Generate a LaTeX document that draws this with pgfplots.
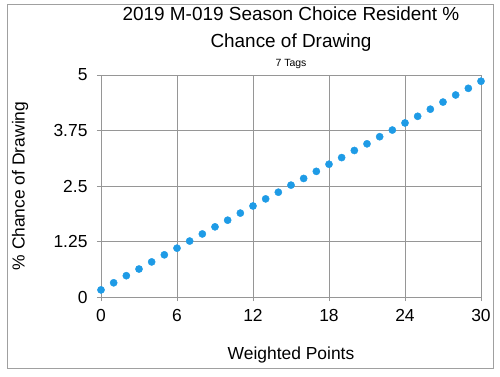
\documentclass[border=0pt]{standalone}
\usepackage{pgfplots}
\pgfplotsset{compat=1.18}
\usepackage{fontspec}
\setmainfont{Liberation Sans}
\definecolor{dotblue}{RGB}{30,155,230}
\definecolor{gridgray}{RGB}{150,150,150}
\definecolor{framegray}{RGB}{160,160,160}
\begin{document}
\begin{tikzpicture}[x=1bp,y=1bp]
\path[use as bounding box] (-101bp,-80bp) rectangle (399bp,297bp);
\draw[framegray, line width=0.8pt] (-94bp,-71bp) rectangle (392bp,293bp);
\begin{axis}[
  at={(0,0)}, anchor=south west,
  width=380bp, height=222bp, scale only axis,
  xmin=0, xmax=30, ymin=0, ymax=5,
  xtick={0,6,12,18,24,30},
  ytick={0,1.25,2.5,3.75,5},
  yticklabels={0,1.25,2.5,3.75,5},
  /pgf/number format/assume math mode=true,
  grid=major,
  grid style={gridgray, line width=0.8pt},
  axis line style={gridgray, line width=0.8pt},
  tick style={gridgray, line width=0.8pt},
  tick align=outside, major tick length=4bp,
  xtick pos=bottom, ytick pos=left,
  ticklabel style={font=\fontsize{17.5}{20}\selectfont},
  xticklabel style={yshift=-5bp},
  yticklabel style={xshift=-6bp},
  clip=false,
]
\addplot[only marks, mark=*, mark size=3.6bp, color=dotblue, mark options={draw=dotblue, fill=dotblue}] coordinates {
(0,0.16) (1,0.32) (2,0.48) (3,0.63) (4,0.79) (5,0.95) (6,1.10) (7,1.26) (8,1.42)
(9,1.58) (10,1.73) (11,1.89) (12,2.05) (13,2.21) (14,2.36) (15,2.52) (16,2.67)
(17,2.83) (18,2.99) (19,3.14) (20,3.30) (21,3.45) (22,3.61) (23,3.76) (24,3.92)
(25,4.07) (26,4.23) (27,4.39) (28,4.55) (29,4.70) (30,4.86)
};
\end{axis}
\node[font=\fontsize{19}{27}\selectfont, align=center] at (190bp,267.5bp) {2019 M-019 Season Choice Resident \%\\Chance of Drawing};
\node[font=\fontsize{10.5}{12}\selectfont] at (190bp,233bp) {7 Tags};
\node[font=\fontsize{17.5}{20}\selectfont] at (190bp,-58bp) {Weighted Points};
\node[font=\fontsize{17.5}{20}\selectfont, rotate=90] at (-81bp,111bp) {\% Chance of Drawing};
\end{tikzpicture}
\end{document}
